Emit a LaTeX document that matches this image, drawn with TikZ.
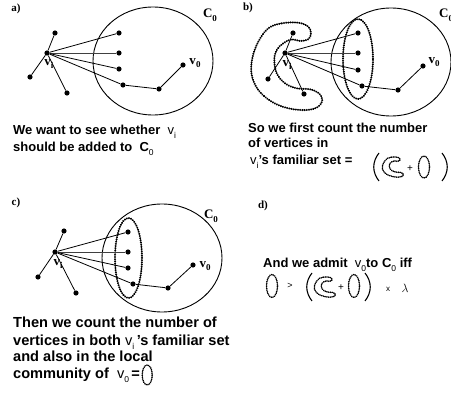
\documentclass[tikz,border=0pt]{standalone}
\usepackage{fontspec}
\setmainfont{Liberation Sans}
\newfontfamily\lblfont{Liberation Serif}
\newcommand\txsub[1]{\raisebox{-4pt}{\mdseries\fontsize{8.5}{8.5}\selectfont #1}}
\newcommand\lbsub[1]{\raisebox{-3.5pt}{\fontsize{9}{9}\selectfont #1}}
\newcommand\vreg{{\mdseries v}}
\tikzset{
  dot/.style={circle, fill=black, inner sep=0pt, minimum size=5.2pt},
  edge/.style={line width=0.8pt},
  comm/.style={line width=0.9pt},
  fam/.style={line width=2pt, line cap=round, dash pattern=on 0.3pt off 1.9pt},
  famsmall/.style={line width=1.6pt, line cap=round, dash pattern=on 0.2pt off 1.55pt},
  txt/.style={font=\fontsize{13}{15}\selectfont\bfseries, inner sep=0pt, anchor=base west},
  txtc/.style={font=\fontsize{14.6}{16}\selectfont\bfseries, inner sep=0pt, anchor=base west},
  lbl/.style={font=\lblfont\bfseries\fontsize{13}{13}\selectfont, inner sep=0pt},
  plbl/.style={font=\lblfont\bfseries\fontsize{11}{11}\selectfont, inner sep=0pt},
  cstyle/.style={fam},
  cshape/.pic={
    \draw[cstyle] plot[smooth cycle, tension=0.6] coordinates {
      (-18.7,-37.7) (-5.3,-42.7) (11.3,-43.3) (21.3,-39.3) (24,-32.7)
      (21.3,-26.7) (13,-25) (4.7,-26.7) (-3.7,-22.7) (-10.3,-16)
      (-12.7,-6) (-10.3,7.3) (-2,17.3) (9.7,22.3) (23,23.3)
      (32,27.3) (35.3,34) (31.3,40.7) (19.7,44) (1.3,42.3)
      (-15.3,35.7) (-28.7,24) (-35.3,9) (-34.7,-7.7) (-28.7,-24.3)};
  },
  lpar/.pic={\draw[line width=1.1pt] (0,-14) .. controls (-7,-5) and (-7,5) .. (0,14);},
  rpar/.pic={\draw[line width=1.1pt] (0,-14) .. controls (7,-5) and (7,5) .. (0,14);}
}
\begin{document}
\begin{tikzpicture}[x=1pt,y=-1pt]
\useasboundingbox (0,0) rectangle (451,396);

% ---------------- panel a ----------------
\node[plbl] (la) at (16,9) {a)};
\draw[comm] (153,61) ellipse [x radius=60pt, y radius=54pt];
\node[lbl] (ca) at (210,15) {C\lbsub{0}};
\node[dot] (avi) at (47,53) {};
\node[dot] (at) at (55,33) {};
\node[dot] (al) at (30,77) {};
\node[dot] (ab) at (67,93) {};
\node[dot] (a1) at (119,33) {};
\node[dot] (a2) at (119,53) {};
\node[dot] (a3) at (119,69) {};
\node[dot] (a4) at (123,85) {};
\node[dot] (a5) at (159,89) {};
\node[dot] (av0) at (183,65) {};
\draw[edge] (at) -- (avi) -- (al);
\draw[edge] (avi) -- (ab);
\draw[edge] (avi) -- (a1);
\draw[edge, black!75] (avi) -- (a2);
\draw[edge] (avi) -- (a3);
\draw[edge] (avi) -- (a4) -- (a5) -- (av0);
\node[lbl] (avil) at (49,64) {v\lbsub{i}};
\node[lbl] (av0l) at (195,63) {v\lbsub{0}};
\node[txt] (ta1) at (13,135) {We want to see whether\ \ \vreg\txsub{i}};
\node[txt] (ta2) at (13,152) {should be added to\ \ C\txsub{0}};

% ---------------- panel b ----------------
\node[plbl] (lb) at (248,8) {b)};
\draw[comm] (391,62) ellipse [x radius=60pt, y radius=54pt];
\node[lbl, anchor=west] (cb) at (439,15) {C\lbsub{0}};
\pic at (287,66) {cshape};
\draw[fam] (358,59) ellipse [x radius=15pt, y radius=40pt];
\node[dot] (bvi) at (285,53) {};
\node[dot] (bt) at (293,33) {};
\node[dot] (bl) at (268,79) {};
\node[dot] (bb) at (304,94) {};
\node[dot] (b1) at (358,33) {};
\node[dot] (b2) at (358,53) {};
\node[dot] (b3) at (358,70) {};
\node[dot] (b4) at (362,86) {};
\node[dot] (b5) at (398,90) {};
\node[dot] (bv0) at (423,66) {};
\draw[edge] (bt) -- (bvi) -- (bl);
\draw[edge] (bvi) -- (bb);
\draw[edge] (bvi) -- (b1);
\draw[edge, black!75] (bvi) -- (b2);
\draw[edge] (bvi) -- (b3);
\draw[edge] (bvi) -- (b4) -- (b5) -- (bv0);
\node[lbl] (bvil) at (287,65) {v\lbsub{i}};
\node[lbl] (bv0l) at (434,62) {v\lbsub{0}};
\node[txt] (tb1) at (248,133) {So we first count the number};
\node[txt] (tb2) at (248,148) {of vertices in};
\node[txt] (tb3) at (250,165) {\vreg\txsub{i}'s familiar set =};
\pic at (379,167) {lpar};
\pic[xscale=0.3, yscale=0.23, cstyle/.style={famsmall}] at (393,167) {cshape};
\node[font=\fontsize{10}{10}\selectfont, inner sep=0pt] (bplus) at (410,169) {+};
\draw[famsmall] (424,167) ellipse [x radius=5.5pt, y radius=11pt];
\pic at (442,167) {rpar};

% ---------------- panel c ----------------
\node[plbl] (lc) at (16,203) {c)};
\draw[comm] (162,258) ellipse [x radius=60pt, y radius=54pt];
\node[lbl] (cc) at (211,216) {C\lbsub{0}};
\draw[fam] (128.5,258) ellipse [x radius=13.5pt, y radius=40pt];
\node[dot] (cvi) at (55,252) {};
\node[dot] (ct) at (64,231) {};
\node[dot] (cl) at (38,277) {};
\node[dot] (cb2) at (76,293) {};
\node[dot] (c1) at (128,232) {};
\node[dot] (c2) at (128,252) {};
\node[dot] (c3) at (128,268) {};
\node[dot] (c4) at (133,284) {};
\node[dot] (c5) at (168,288) {};
\node[dot] (cv0) at (193,265) {};
\draw[edge] (ct) -- (cvi) -- (cl);
\draw[edge] (cvi) -- (cb2);
\draw[edge] (cvi) -- (c1);
\draw[edge, black!75] (cvi) -- (c2);
\draw[edge] (cvi) -- (c3);
\draw[edge] (cvi) -- (c4) -- (c5) -- (cv0);
\node[lbl] (cvil) at (58,264) {v\lbsub{i}};
\node[lbl] (cv0l) at (205,266) {v\lbsub{0}};
\node[txtc] (tc1) at (13,328) {Then we count the number of};
\node[txtc] (tc2) at (13,345) {vertices in both \vreg\txsub{i}\,'s familiar set};
\node[txtc] (tc3) at (13,362) {and also in the local};
\node[txtc] (tc4) at (13,379) {community of\ \ \vreg\txsub{0}\,=};
\draw[famsmall] ([xshift=7pt,yshift=4pt]tc4.base east) ellipse [x radius=5pt, y radius=10pt];

% ---------------- panel d ----------------
\node[plbl] (ld) at (263,206) {d)};
\node[txt] (td1) at (263,268) {And we admit\ \ \vreg\txsub{0}to C\txsub{0} iff};
\draw[famsmall] (272,286) ellipse [x radius=5.5pt, y radius=11.5pt];
\node[font=\fontsize{9}{9}\selectfont, inner sep=0pt] (dgt) at (290,286) {>};
\pic at (312,287) {lpar};
\pic[xscale=0.3, yscale=0.23, cstyle/.style={famsmall}] at (325,287) {cshape};
\node[font=\fontsize{10}{10}\selectfont, inner sep=0pt] (dplus) at (341,288) {+};
\draw[famsmall] (354,286) ellipse [x radius=5.5pt, y radius=11.5pt];
\pic at (365,287) {rpar};
\node[font=\fontsize{8}{8}\selectfont, inner sep=0pt] (dx) at (388,289) {x};
\node[font=\fontsize{12}{12}\selectfont, inner sep=0pt] (dlam) at (405,288) {$\lambda$};
\end{tikzpicture}
\end{document}
